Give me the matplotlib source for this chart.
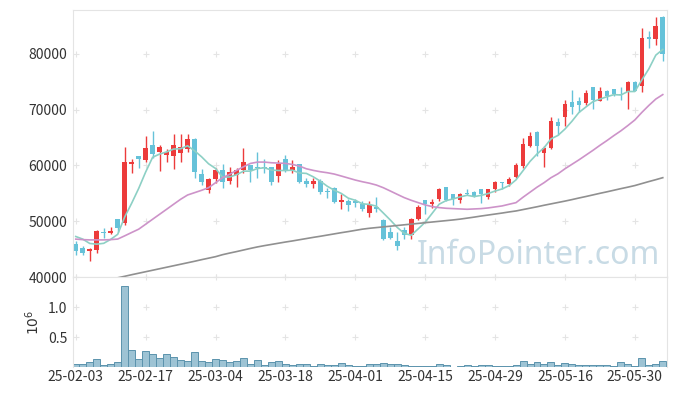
import matplotlib
matplotlib.use('Agg')
import matplotlib.pyplot as plt
import numpy as np

plt.rcParams['font.family'] = ['Noto Sans CJK KR', 'DejaVu Sans']

# daily OHLC (KRW), 85 trading days
opens = [45900, 45180, 44700, 44880, 48150, 47860, 50360, 49640, 60240, 61670,
         60950, 63750, 62380, 61850, 61670, 62140, 62980, 64820, 58510, 55650,
         57500, 59170, 57200, 58210, 59170, 60000, 59700, 59700, 59760, 58100,
         61070, 59170, 60180, 57200, 56610, 57200, 55420, 56010, 53450, 53630,
         53630, 53150, 51430, 52560, 50180, 47980, 46370, 48390, 47560, 50480,
         53750, 53160, 53930, 56130, 54820, 53810, 55120, 55300, 55710, 54350,
         55710, 57080, 56610, 57980, 59880, 63450, 66010, 62140, 63160, 67860,
         68690, 71430, 71610, 71190, 74050, 71610, 73390, 73690, 72800, 73100,
         74880, 74290, 82980, 82620, 86670]
highs = [46480, 45600, 45120, 48390, 48750, 48990, 50400, 63390, 61190, 61700,
         65300, 66250, 63750, 62860, 65660, 65710, 65660, 64900, 59290, 57800,
         59580, 60180, 59760, 59580, 63160, 60050, 62440, 61070, 59800, 60890,
         61850, 60890, 60200, 57800, 57680, 57620, 56010, 56050, 54820, 53930,
         54050, 53630, 53630, 54400, 50480, 49050, 48100, 49050, 50500, 52860,
         53800, 54050, 56010, 56200, 54900, 55120, 55830, 55400, 55800, 55830,
         57200, 57100, 57980, 60360, 64940, 65950, 66100, 63570, 68690, 68510,
         71790, 73570, 72200, 73570, 74100, 73990, 73570, 73700, 74050, 75060,
         75180, 84700, 84110, 86670, 86700]
lows = [43980, 43990, 42920, 44230, 47080, 47680, 48150, 49350, 58630, 59520,
        60650, 61370, 58990, 60600, 59290, 60600, 62440, 57800, 56490, 55000,
        56900, 56010, 56730, 56130, 58570, 57080, 57800, 58690, 56430, 57080,
        58810, 58690, 56900, 56130, 56010, 54820, 54230, 53330, 52140, 51850,
        52560, 51850, 50830, 51670, 46700, 46900, 44820, 46790, 46790, 50180,
        51250, 52320, 53630, 53630, 52920, 53210, 54640, 54400, 53330, 53930,
        55240, 55710, 56310, 57680, 59580, 63270, 61670, 59760, 63000, 65540,
        67140, 69230, 69520, 70890, 70180, 71500, 71790, 72500, 71700, 70120,
        73300, 73100, 81130, 81610, 78810]
closes = [44700, 44350, 45000, 48210, 47920, 48270, 48870, 60540, 60540, 61130,
          63040, 62080, 63390, 62440, 63750, 63270, 64820, 58810, 57080, 57500,
          59110, 57080, 58870, 59110, 60660, 59170, 59460, 59520, 57020, 60290,
          59170, 59760, 57020, 56610, 57200, 55240, 55240, 53450, 53750, 52980,
          53330, 52140, 52860, 52260, 46790, 47080, 45480, 47560, 50480, 52560,
          53040, 53450, 55710, 53750, 54050, 54820, 54940, 54520, 54820, 55710,
          57080, 56790, 57500, 60000, 63930, 65360, 63450, 63040, 68040, 67020,
          71070, 70420, 70890, 72980, 71790, 73390, 72500, 72800, 72680, 74880,
          73390, 82860, 82680, 85060, 79940]
# volume, millions of shares
volumes = [0.044, 0.044, 0.078, 0.128, 0.028, 0.044, 0.078, 1.344, 0.278, 0.128,
           0.261, 0.211, 0.144, 0.211, 0.161, 0.111, 0.094, 0.244, 0.094, 0.078,
           0.128, 0.111, 0.078, 0.094, 0.144, 0.044, 0.111, 0.028, 0.078, 0.094,
           0.044, 0.028, 0.044, 0.044, 0.011, 0.044, 0.028, 0.028, 0.061, 0.028,
           0.011, 0.011, 0.044, 0.044, 0.061, 0.044, 0.044, 0.028, 0.011, 0.011,
           0.011, 0.011, 0.044, 0.028, 0.003, 0.011, 0.028, 0.011, 0.028, 0.028,
           0.011, 0.011, 0.011, 0.028, 0.094, 0.044, 0.078, 0.044, 0.078, 0.028,
           0.061, 0.044, 0.028, 0.028, 0.028, 0.028, 0.028, 0.011, 0.078, 0.044,
           0.011, 0.144, 0.028, 0.044, 0.094]
# moving averages as drawn on the chart
ma5 = [47260, 46790, 46010, 45890, 46040, 46750, 47650, 50760, 53230, 55870,
       58820, 61470, 62040, 62420, 62940, 62990, 63530, 62620, 61550, 60300,
       59460, 57920, 57930, 58330, 58970, 58980, 59450, 59580, 59170, 59090,
       59090, 59150, 58650, 58570, 57950, 57170, 56260, 55550, 54980, 54130,
       53750, 53130, 53010, 52710, 51480, 50230, 48890, 47830, 47480, 48630,
       49820, 51420, 53050, 53700, 54000, 54360, 54650, 54420, 54630, 54960,
       55410, 55780, 56380, 57420, 59060, 60720, 62050, 63160, 64760, 65380,
       66520, 67920, 69490, 70480, 71430, 71890, 72310, 72690, 72630, 73250,
       73250, 75320, 77300, 79770, 80790]
ma20 = [46790, 46700, 46650, 46650, 46650, 46700, 46800, 47380, 47980, 48570,
        49460, 50360, 51250, 52140, 53040, 53930, 54700, 55120, 55540, 56010,
        56900, 57800, 58390, 59110, 59760, 60360, 60600, 60600, 60480, 60420,
        60360, 60180, 59880, 59400, 59110, 58870, 58690, 58450, 58100, 57740,
        57380, 57080, 56820, 56490, 56010, 55420, 54820, 54230, 53750, 53330,
        52920, 52620, 52440, 52320, 52260, 52200, 52140, 52200, 52260, 52380,
        52560, 52740, 53040, 53330, 54300, 55200, 56100, 56900, 57800, 58500,
        59400, 60200, 61000, 61850, 62700, 63600, 64450, 65350, 66200, 67150,
        68150, 69500, 70750, 71900, 72700]
ma120 = [38200, 38480, 38750, 39040, 39300, 39590, 39860, 40125, 40411, 40679,
         40946, 41214, 41482, 41750, 42018, 42286, 42554, 42821, 43107, 43375,
         43643, 44000, 44286, 44554, 44839, 45125, 45393, 45625, 45839, 46054,
         46268, 46464, 46679, 46893, 47107, 47304, 47518, 47732, 47946, 48143,
         48357, 48571, 48732, 48857, 48982, 49107, 49232, 49357, 49482, 49607,
         49732, 49857, 49982, 50107, 50232, 50375, 50554, 50732, 50929, 51107,
         51286, 51464, 51661, 51839, 52089, 52339, 52589, 52857, 53107, 53357,
         53607, 53875, 54161, 54429, 54714, 55000, 55268, 55554, 55839, 56107,
         56393, 56750, 57107, 57446, 57804]
tick_labels = ['25-02-03', '25-02-17', '25-03-04', '25-03-18', '25-04-01',
               '25-04-15', '25-04-29', '25-05-16', '25-05-30']

for s in (opens, highs, lows, closes, volumes, ma5, ma20, ma120):
    assert len(s) == len(closes)

o = np.array(opens); h = np.array(highs); l = np.array(lows); c = np.array(closes)
x = np.arange(len(c))
up = c >= o
cols = np.where(up, '#ec3b3b', '#66c2d9')

fig = plt.figure(figsize=(6.77, 3.96), dpi=100)
ax = fig.add_axes([0.1078, 0.3005, 0.8774, 0.6742])
axv = fig.add_axes([0.1078, 0.0732, 0.8774, 0.2273], sharex=ax)

# candles
ax.vlines(x, l, h, colors=cols, lw=1.0, zorder=2)
body = np.maximum(np.abs(c - o), 120)
ax.bar(x, body, bottom=np.minimum(o, c), width=0.66, color=cols, lw=0, zorder=2)

ax.plot(x, ma5, color='#8dd0c5', lw=1.2, zorder=3)
ax.plot(x, ma20, color='#cd93c9', lw=1.2, zorder=3)
ax.plot(x, ma120, color='#909090', lw=1.2, zorder=3)

ax.set_xlim(-0.4, 84.6)
ax.set_ylim(40000, 87860)
ax.set_yticks([40000, 50000, 60000, 70000, 80000])
xt = np.arange(0, 81, 10)
ax.set_xticks(xt)

ax.text(0.988, 0.082, 'InfoPointer.com', transform=ax.transAxes, ha='right', va='center',
        fontsize=23, color='#c8dbe5', family='Noto Sans', zorder=1)

# volume
axv.bar(x, volumes, width=1.0, color='#9dc3d4', edgecolor='#5b93ad', lw=0.7, zorder=2)
axv.set_ylim(0, 1.5)
axv.set_yticks([0.5, 1.0])
axv.set_yticklabels(['0.5', '1.0'])
axv.set_ylabel('$10^6$', fontsize=10, color='#333333', labelpad=4)
axv.set_xticks(xt)
axv.set_xticklabels(tick_labels)

for a, yt in ((ax, [40000, 50000, 60000, 70000, 80000]), (axv, [0.5, 1.0, 1.5])):
    gx, gy = np.meshgrid(xt, yt)
    a.plot(gx.ravel(), gy.ravel(), '+', color='#e4e4e4', ms=4, mew=0.8, zorder=0, clip_on=False)
    for sp in a.spines.values():
        sp.set_color('#e4e4e4')
    a.tick_params(length=0, labelsize=10, colors='#333333', pad=4)

ax.tick_params(labelbottom=False)
axv.tick_params(axis='x', pad=2)
axv.spines['bottom'].set_visible(False)

fig.savefig('out.png', dpi=100)
